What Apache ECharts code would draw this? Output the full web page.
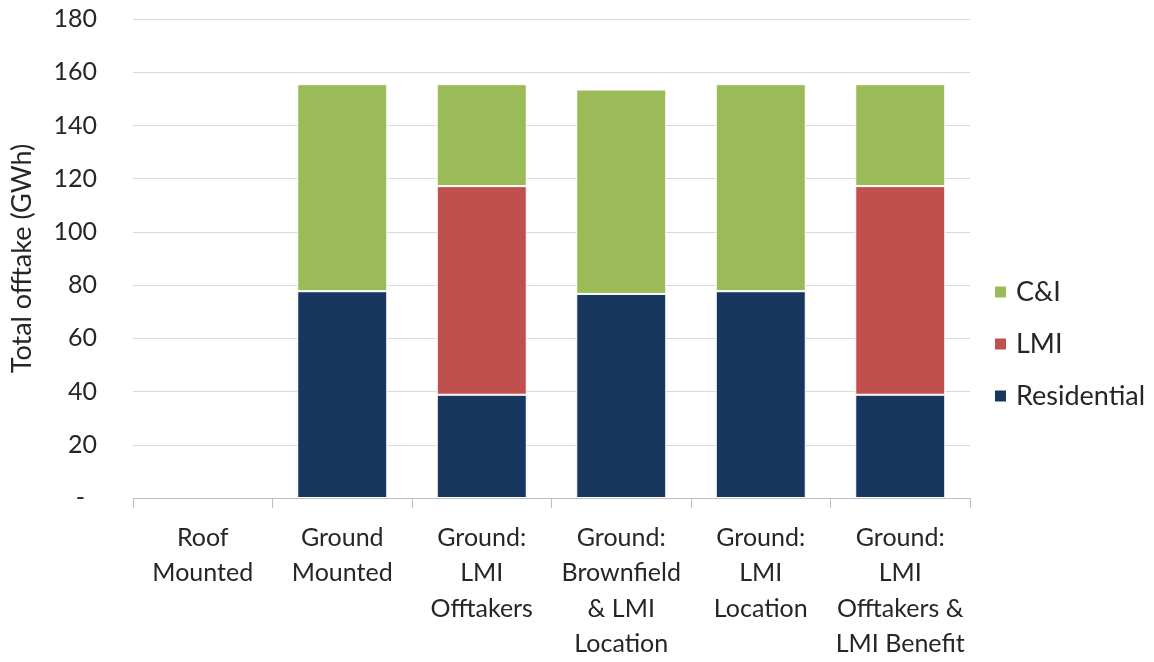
<!DOCTYPE html>
<html>
<head>
<meta charset="utf-8">
<style>
  html, body { margin: 0; padding: 0; background: #ffffff; }
  #chart { width: 1154px; height: 662px; }
</style>
<script src="https://cdn.jsdelivr.net/npm/echarts@6/dist/echarts.min.js"></script>
</head>
<body>
<div id="chart"></div>
<script>
// Scenario categories (x axis)
const categories = [
  'Roof\nMounted',
  'Ground\nMounted',
  'Ground:\nLMI\nOfftakers',
  'Ground:\nBrownfield\n& LMI\nLocation',
  'Ground:\nLMI\nLocation',
  'Ground:\nLMI\nOfftakers &\nLMI Benefit'
];

// Offtake by customer class, GWh
const residential = [0, 77.7, 38.8, 76.7, 77.7, 38.8];
const lmi         = [0, 0,    78.4, 0,    0,    78.4];
const cAndI       = [0, 77.8, 38.3, 76.8, 77.8, 38.3];

// Y axis ticks
const yMin = 0, yMax = 180, yStep = 20;

const FONT = 'Lato, "Open Sans", sans-serif';
const TEXT = '#262626';

const chart = echarts.init(document.getElementById('chart'), null, { renderer: 'canvas' });

const barStyle = (color) => ({ color: color, borderColor: '#ffffff', borderWidth: 1 });
// empty segments are left out so their outline does not cover the axis line
const segs = (arr) => arr.map((v) => (v === 0 ? '-' : v));

chart.setOption({
  animation: false,
  backgroundColor: '#ffffff',
  textStyle: { fontFamily: FONT, color: TEXT },
  grid: { left: 133, right: 184, top: 19, bottom: 159, containLabel: false },
  legend: {
    orient: 'vertical',
    left: 993,
    top: 277,
    padding: 0,
    itemWidth: 13,
    itemHeight: 13,
    itemGap: 22,
    icon: 'rect',
    data: ['C&I', 'LMI', 'Residential'],
    textStyle: { fontFamily: FONT, fontSize: 27, color: TEXT, lineHeight: 30, padding: [0, 0, 0, 4] }
  },
  xAxis: {
    type: 'category',
    data: categories,
    axisLine: { show: true, lineStyle: { color: '#bfbfbf', width: 1 } },
    axisTick: { show: true, length: 10, lineStyle: { color: '#bfbfbf' } },
    axisLabel: {
      interval: 0,
      margin: 22,
      fontFamily: FONT,
      fontSize: 25,
      lineHeight: 35.5,
      color: TEXT,
      align: 'center'
    },
    splitLine: { show: false }
  },
  yAxis: {
    type: 'value',
    min: yMin,
    max: yMax,
    interval: yStep,
    name: 'Total offtake (GWh)',
    nameLocation: 'middle',
    nameGap: 97,
    nameTextStyle: { fontFamily: FONT, fontSize: 27, color: TEXT },
    axisLine: { show: false },
    axisTick: { show: false },
    axisLabel: {
      margin: 36,
      fontFamily: FONT,
      fontSize: 25,
      color: TEXT,
      formatter: (v) => (v === 0 ? '{z|-}' : String(v)),
      rich: { z: { fontFamily: FONT, fontSize: 25, color: TEXT, padding: [0, 12, 0, 0] } }
    },
    splitLine: { show: true, lineStyle: { color: '#d9d9d9', width: 1 } }
  },
  series: [
    { name: 'Residential', type: 'bar', stack: 'total', barWidth: 90, data: segs(residential), itemStyle: barStyle('#17375e') },
    { name: 'LMI',         type: 'bar', stack: 'total', barWidth: 90, data: segs(lmi),         itemStyle: barStyle('#c0504d') },
    { name: 'C&I',         type: 'bar', stack: 'total', barWidth: 90, data: segs(cAndI),       itemStyle: barStyle('#9bbb59') }
  ]
});
</script>
</body>
</html>
